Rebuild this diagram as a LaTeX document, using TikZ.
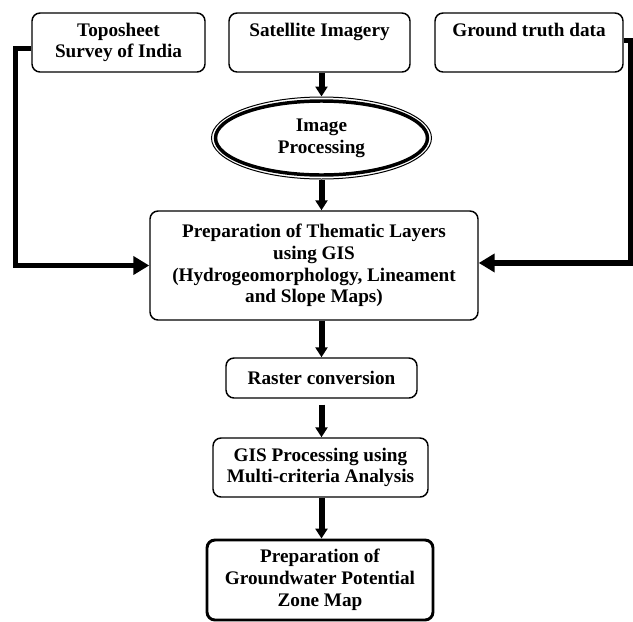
\documentclass[tikz,border=0pt]{standalone}
\usepackage{fontspec}
\setmainfont{Liberation Serif}
\usetikzlibrary{shapes,arrows.meta}

\begin{document}
\begin{tikzpicture}[x=0.75pt, y=-0.75pt, >={Triangle[length=7.5pt,width=9pt]},
  font=\bfseries\fontsize{14.4}{16.3}\selectfont]
\tikzstyle{box}=[draw, rounded corners=6pt, line width=1.1pt, align=center, inner sep=0pt]
\tikzstyle{flow}=[->, line width=4.5pt]
\tikzstyle{side}=[-{Triangle[length=12pt,width=13.5pt]}, line width=3.9pt, line join=miter]
\useasboundingbox (0,0) rectangle (633,622);

% data sources
\node[box, minimum width=129.75pt, minimum height=44.25pt] (topo)   at (118.5,42.5) {Toposheet\\Survey of India};
\node[box, minimum width=135.75pt, minimum height=44.25pt] (sat)    at (319.5,42.5) {Satellite Imagery\\\phantom{Xg}};
\node[box, minimum width=141pt,    minimum height=44.25pt] (ground) at (529,42.5)   {Ground truth data\\\phantom{Xg}};

\node[ellipse, draw, line width=0.75pt, minimum width=165pt, minimum height=61.5pt, align=center, inner sep=0pt] (img) at (321.5,138) {Image\\Processing};
\draw[line width=2.6pt] (img.center) ellipse [x radius=79.5pt, y radius=27.75pt];

\node[box, minimum width=246pt, minimum height=81.75pt] (them) at (314,265.5)
  {Preparation of Thematic Layers\\using GIS\\(Hydrogeomorphology, Lineament\\and Slope Maps)};
\node[box, minimum width=143.25pt, minimum height=30pt] (raster) at (321.5,378) {Raster conversion};
\node[box, minimum width=161.25pt, minimum height=44.25pt] (gis) at (320.5,467.5) {GIS Processing using\\Multi-criteria Analysis};
\node[box, line width=2.2pt, minimum width=169.5pt, minimum height=60pt] (zone) at (320,580)
  {Preparation of\\Groundwater Potential\\Zone Map};

% main flow
\draw[flow] (sat.south -| img.center) -- (img.north);
\draw[flow] (img.south) -- (img.south |- them.north);
\draw[flow] (them.south -| raster.center) -- (raster.north);
\draw[flow] ([yshift=-4.5pt]raster.south) -- (raster.south |- gis.north);
\draw[flow] (gis.south -| raster.center) -- (raster.center |- zone.north);

% side inputs
\coordinate (lcorner) at (15.5,48.5);
\coordinate (rcorner) at (631,40.5);
\draw[side] ([yshift=-4.5pt]topo.west) -- (lcorner) |- (them.west);
\draw[side] ([yshift=1.5pt]ground.east) -- (rcorner) |- ([yshift=1.9pt]them.east);

\end{tikzpicture}
\end{document}
